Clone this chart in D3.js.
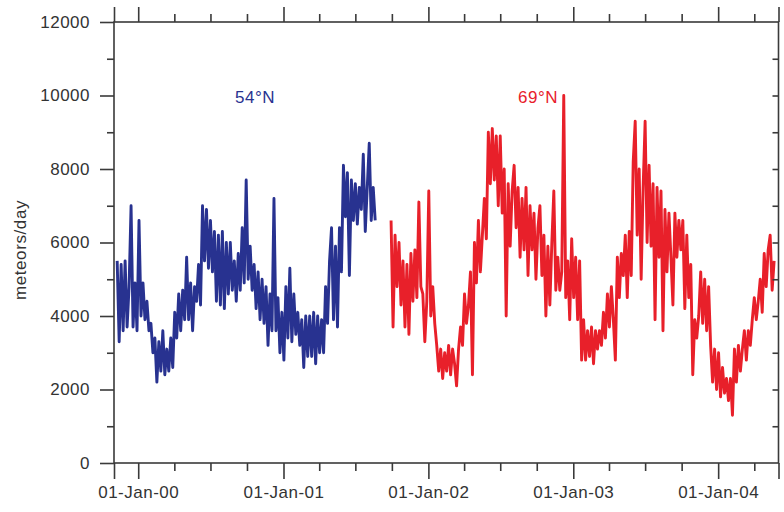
<!DOCTYPE html>
<html>
<head>
<meta charset="utf-8">
<script src="https://cdn.jsdelivr.net/npm/d3@7"></script>
<style>
  html, body { margin: 0; padding: 0; background: #fff; }
  svg { display: block; }
  text { font-family: "Liberation Sans", Arial, Helvetica, sans-serif; }
</style>
</head>
<body>
<svg id="chart" width="784" height="512"></svg>
<script>
// Daily meteor echo counts from two radars, sampled every 5 days.
const seriesNames = ["54°N", "69°N"];
const seriesColors = ["#283290", "#e8202a"];
const stepDays = 5;

// 54°N radar, starting 9 Nov 1999
const start54 = "1999-11-09";
const values54 = [
  5500, 3300, 5400, 3600, 5500, 3700, 4800, 7000, 3700, 4900,
  3600, 6600, 4000, 4900, 3900, 4400, 3600, 3800, 3000, 3400,
  2200, 3300, 2500, 3600, 2400, 3100, 2500, 3400, 2600, 4100,
  3400, 4600, 3600, 4700, 3900, 5600, 3900, 4900, 3600, 4800,
  4400, 5400, 4300, 7000, 5500, 6900, 5300, 6600, 5200, 6300,
  4400, 6200, 4300, 6300, 4200, 6000, 4600, 6000, 4700, 5500,
  4400, 5700, 4700, 6400, 4900, 7700, 5000, 5900, 4700, 5400,
  4200, 5200, 3900, 5000, 3800, 4800, 3200, 4600, 3600, 7200,
  3600, 4500, 3000, 4100, 2800, 4800, 3400, 5300, 3300, 4600,
  3500, 4100, 3200, 3900, 2600, 4000, 2900, 4000, 2900, 4100,
  2700, 4000, 3000, 3900, 3000, 4800, 3800, 5500, 6400, 3900,
  5900, 3700, 6400, 5200, 8100, 6700, 7900, 5100, 7700, 6600,
  7600, 6500, 7500, 6900, 8400, 6300, 7500, 8700, 6600, 7500,
  6600
];

// 69°N radar, starting 29 Sep 2001
const start69 = "2001-09-29";
const values69 = [
  6600, 3700, 6200, 4800, 6000, 4300, 5500, 3700, 5400, 3500,
  5700, 4400, 5800, 4500, 7100, 4800, 4600, 3300, 4400, 7400,
  4000, 4800, 3800, 3200, 2500, 3100, 2300, 3000, 2500, 3200,
  2400, 3100, 2700, 2100, 3100, 3700, 3200, 4600, 3800, 4300,
  5200, 2400, 6000, 4900, 6600, 5200, 6200, 7200, 6100, 9000,
  7600, 9100, 7700, 8900, 7000, 8900, 6800, 8000, 4000, 7600,
  5900, 7400, 8100, 6400, 7500, 5600, 7200, 5800, 7500, 5100,
  7000, 5800, 6800, 5000, 6400, 7000, 5100, 6200, 4000, 5900,
  4300, 6000, 7400, 4700, 5600, 4700, 5200, 10000, 4500, 5500,
  3900, 6100, 4500, 5600, 3900, 5500, 2800, 3900, 2800, 3600,
  2900, 3700, 2700, 3600, 3100, 3600, 3200, 4100, 3400, 4600,
  3700, 4800, 3900, 2800, 5600, 4500, 5700, 5100, 6200, 4500,
  6300, 5100, 8200, 9300, 6200, 8000, 5000, 7500, 9300, 6000,
  8100, 5900, 7600, 3900, 7500, 5600, 7400, 3600, 6900, 5200,
  6800, 5600, 4300, 6800, 5600, 6600, 5800, 6600, 4200, 6200,
  4500, 5400, 2400, 3900, 3400, 4000, 5200, 3800, 5000, 3600,
  4800, 3200, 2200, 3100, 2000, 3000, 1800, 2600, 1900, 2300,
  1700, 2300, 1300, 3100, 2200, 3200, 2500, 3100, 3600, 2800,
  3600, 3200, 3900, 4500, 3900, 4400, 5000, 4100, 5700, 4800,
  5800, 6200, 4700, 5500
];

// Axis ticks
const yMajorTicks = [0, 2000, 4000, 6000, 8000, 10000, 12000];
const yMinorTicks = [1000, 3000, 5000, 7000, 9000, 11000];
const yearTicks = ["2000-01-01", "2001-01-01", "2002-01-01", "2003-01-01", "2004-01-01"];
const quarterTicks = [
  "2000-04-01", "2000-07-01", "2000-10-01",
  "2001-04-01", "2001-07-01", "2001-10-01",
  "2002-04-01", "2002-07-01", "2002-10-01",
  "2003-04-01", "2003-07-01", "2003-10-01",
  "2004-04-01"
];
const xDomain = ["1999-11-01", "2004-06-01"];
const yLabel = "meteors/day";

const parse = d3.utcParse("%Y-%m-%d");
const fmt = d3.utcFormat("%d-%b-%y");

const svg = d3.select("#chart");
const plotLeft = 114, plotRight = 778.5, plotTop = 22, plotBottom = 463;

const x = d3.scaleUtc().domain(xDomain.map(parse)).range([plotLeft, plotRight]);
const y = d3.scaleLinear().domain([0, 12000]).range([plotBottom, plotTop]);

function toPoints(startStr, vals) {
  const s = parse(startStr);
  return vals.map((v, i) => ({ date: d3.utcDay.offset(s, i * stepDays), value: v }));
}
const series = [toPoints(start54, values54), toPoints(start69, values69)];

svg.append("defs").append("clipPath").attr("id", "plot-clip")
  .append("rect").attr("x", plotLeft).attr("y", plotTop)
  .attr("width", plotRight - plotLeft).attr("height", plotBottom - plotTop);

const line = d3.line().x(d => x(d.date)).y(d => y(d.value));

const lines = svg.append("g").attr("clip-path", "url(#plot-clip)");
series.forEach((pts, i) => {
  lines.append("path")
    .datum(pts)
    .attr("fill", "none")
    .attr("stroke", seriesColors[i])
    .attr("stroke-width", 2.9)
    .attr("stroke-linejoin", "round")
    .attr("d", line);
});

const axisColor = "#3a3a3a";
const textColor = "#333";

function styleAxis(g) {
  g.select(".domain").remove();
  g.selectAll(".tick line").attr("stroke", axisColor).attr("stroke-width", 1.6);
  g.selectAll(".tick text")
    .attr("fill", textColor)
    .style("font-size", "17px")
    .style("letter-spacing", "0.5px");
}

const yearDates = yearTicks.map(parse);
const quarterDates = quarterTicks.map(parse);
const endDates = xDomain.map(parse);

// bottom axis
svg.append("g").attr("transform", `translate(0,${plotBottom})`)
  .call(d3.axisBottom(x).tickValues(yearDates).tickSize(16).tickPadding(7).tickFormat(fmt))
  .call(styleAxis);
svg.append("g").attr("transform", `translate(0,${plotBottom})`)
  .call(d3.axisBottom(x).tickValues(quarterDates).tickSize(8).tickFormat(""))
  .call(styleAxis);
svg.append("g").attr("transform", `translate(0,${plotBottom})`)
  .call(d3.axisBottom(x).tickValues(endDates).tickSize(16).tickFormat(""))
  .call(styleAxis);

// top axis
svg.append("g").attr("transform", `translate(0,${plotTop})`)
  .call(d3.axisTop(x).tickValues(yearDates.concat(endDates)).tickSize(15).tickFormat(""))
  .call(styleAxis);
svg.append("g").attr("transform", `translate(0,${plotTop})`)
  .call(d3.axisTop(x).tickValues(quarterDates).tickSize(8).tickFormat(""))
  .call(styleAxis);

// left axis
svg.append("g").attr("transform", `translate(${plotLeft},0)`)
  .call(d3.axisLeft(y).tickValues(yMajorTicks).tickSize(14).tickPadding(10).tickFormat(d3.format("d")))
  .call(styleAxis);
svg.append("g").attr("transform", `translate(${plotLeft},0)`)
  .call(d3.axisLeft(y).tickValues(yMinorTicks).tickSize(7).tickFormat(""))
  .call(styleAxis);

// right axis, short ticks pointing inward
svg.append("g").attr("transform", `translate(${plotRight},0)`)
  .call(d3.axisRight(y).tickValues(yMinorTicks.concat(yMajorTicks.slice(1, -1))).tickSize(-6).tickFormat(""))
  .call(styleAxis);

// frame
svg.append("rect")
  .attr("x", plotLeft).attr("y", plotTop)
  .attr("width", plotRight - plotLeft).attr("height", plotBottom - plotTop)
  .attr("fill", "none").attr("stroke", axisColor).attr("stroke-width", 1.6);

// y axis title
svg.append("text")
  .attr("transform", `translate(26,250) rotate(-90)`)
  .attr("text-anchor", "middle")
  .attr("fill", textColor)
  .style("font-size", "17px")
  .style("letter-spacing", "0.6px")
  .text(yLabel);

// series labels
const labelPos = [{ date: "2000-09-01", value: 9800 }, { date: "2002-08-15", value: 9800 }];
seriesNames.forEach((name, i) => {
  svg.append("text")
    .attr("x", x(parse(labelPos[i].date)))
    .attr("y", y(labelPos[i].value))
    .attr("fill", seriesColors[i])
    .style("font-size", "17px")
    .style("letter-spacing", "0.5px")
    .text(name);
});
</script>
</body>
</html>
